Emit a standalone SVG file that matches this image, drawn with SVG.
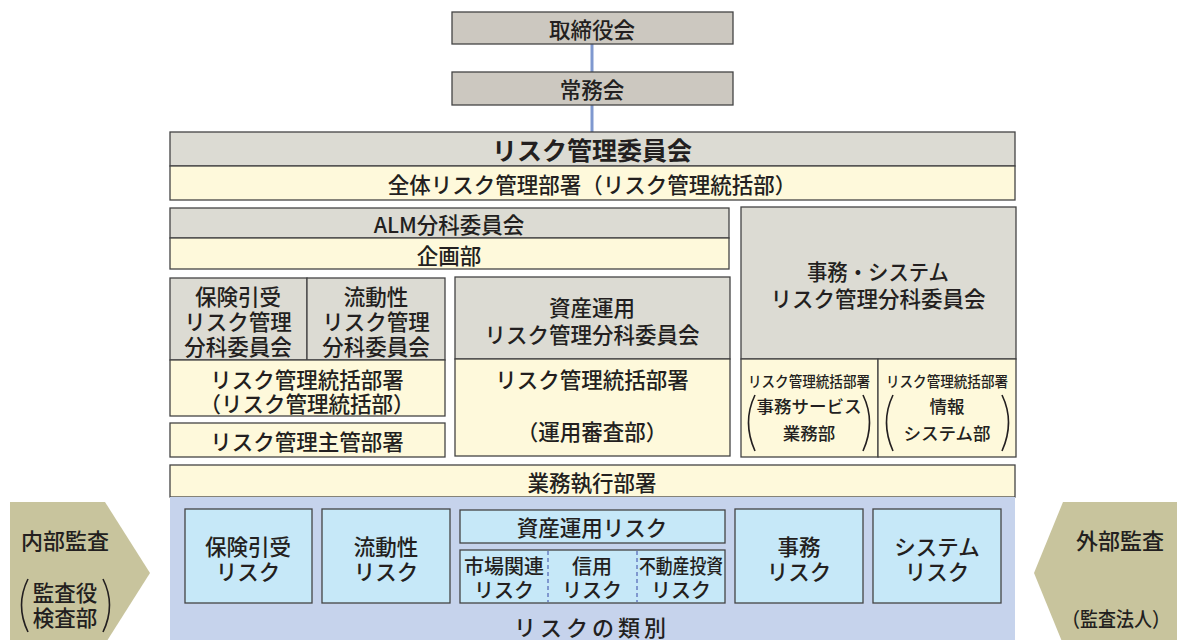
<svg xmlns="http://www.w3.org/2000/svg" width="1177" height="640" viewBox="0 0 1177 640">
<style>
text{font-family:"Noto Sans CJK JP","Noto Sans",sans-serif;fill:#231f20;text-anchor:middle;dominant-baseline:central;font-weight:500}
.g{fill:#dcdbd3;stroke:#444;stroke-width:1.3}
.g2{fill:#ccc8c0;stroke:#444;stroke-width:1.3}
.y{fill:#fef9db;stroke:#444;stroke-width:1.3}
.b{fill:#c6e8f8;stroke:#444;stroke-width:1.3}
.f20{font-size:21.5px}
.f19{font-size:20px}
.f18{font-size:17.5px}
.f15{font-size:15px}
.par{fill:none;stroke:#231f20;stroke-width:1.6}
</style>
<rect x="0" y="0" width="1177" height="640" fill="#fff"/>
<g id="connectors">
<line x1="592" y1="44" x2="592" y2="72" stroke="#7f98cf" stroke-width="3"/>
<line x1="592" y1="105" x2="592" y2="132" stroke="#7f98cf" stroke-width="3"/>
</g>
<g id="board"><rect class="g2" x="452" y="12" width="281" height="32"/><text class="f20" x="592" y="28">取締役会</text></g>
<g id="executive"><rect class="g2" x="452" y="72" width="281" height="33"/><text class="f20" x="592" y="88">常務会</text></g>
<g id="risk-committee"><rect class="g" x="170" y="132" width="845" height="34"/><text x="592" y="149" style="font-size:25px;font-weight:bold">リスク管理委員会</text></g>
<g id="overall-dept"><rect class="y" x="170" y="166" width="845" height="34"/><text class="f20" x="592" y="183">全体リスク管理部署（リスク管理統括部）</text></g>
<g id="alm"><rect class="g" x="170" y="208" width="559" height="30"/><text class="f20" x="449" y="223">ALM分科委員会</text></g>
<g id="planning"><rect class="y" x="170" y="238" width="559" height="31"/><text class="f20" x="449" y="254">企画部</text></g>
<g id="underwriting-sub"><rect class="g" x="170" y="278" width="137" height="82"/><text class="f20" x="238" y="295">保険引受</text><text class="f20" x="238" y="320">リスク管理</text><text class="f20" x="238" y="345">分科委員会</text></g>
<g id="liquidity-sub"><rect class="g" x="307" y="278" width="138" height="82"/><text class="f20" x="376" y="295">流動性</text><text class="f20" x="376" y="320">リスク管理</text><text class="f20" x="376" y="345">分科委員会</text></g>
<g id="left-dept"><rect class="y" x="170" y="360" width="275" height="56"/><text class="f20" x="307" y="378">リスク管理統括部署</text><text class="f20" x="307" y="402">（リスク管理統括部）</text></g>
<g id="main-dept"><rect class="y" x="170" y="423" width="275" height="34"/><text class="f20" x="307" y="440">リスク管理主管部署</text></g>
<g id="asset-sub"><rect class="g" x="455" y="277" width="275" height="82"/><text class="f20" x="592" y="306">資産運用</text><text class="f20" x="592" y="333">リスク管理分科委員会</text></g>
<g id="asset-dept"><rect class="y" x="455" y="359" width="275" height="97"/><text class="f20" x="592" y="378">リスク管理統括部署</text><text class="f20" x="592" y="430">（運用審査部）</text></g>
<g id="ops-sub"><rect class="g" x="741" y="207" width="275" height="152"/><text class="f20" x="878" y="270" textLength="142" lengthAdjust="spacingAndGlyphs">事務・システム</text><text class="f20" x="878" y="297">リスク管理分科委員会</text></g>
<g id="ops-dept"><rect class="y" x="741" y="359" width="137" height="98"/><text class="f15" x="809" y="380" textLength="122" lengthAdjust="spacingAndGlyphs">リスク管理統括部署</text><path class="par" d="M755,395 Q742,422 755,451"/><path class="par" d="M863,395 Q876,422 863,451"/><text class="f18" x="809" y="405">事務サービス</text><text class="f18" x="809" y="432">業務部</text></g>
<g id="sys-dept"><rect class="y" x="878" y="359" width="138" height="98"/><text class="f15" x="947" y="380" textLength="122" lengthAdjust="spacingAndGlyphs">リスク管理統括部署</text><path class="par" d="M893,395 Q880,422 893,451"/><path class="par" d="M1002,395 Q1015,422 1002,451"/><text class="f18" x="947" y="405">情報</text><text class="f18" x="947" y="432">システム部</text></g>
<g id="business-dept"><rect class="y" x="170" y="465" width="845" height="32"/><text class="f20" x="592" y="481">業務執行部署</text></g>
<g id="risk-categories"><rect x="170" y="497" width="845" height="143" fill="#c6d3ec"/><text x="592" y="626" style="font-size:22px;letter-spacing:4px">リスクの類別</text></g>
<g id="underwriting-risk"><rect class="b" x="185" y="509" width="127" height="94"/><text class="f20" x="248" y="545">保険引受</text><text class="f20" x="248" y="570">リスク</text></g>
<g id="liquidity-risk"><rect class="b" x="322" y="509" width="128" height="94"/><text class="f20" x="386" y="545">流動性</text><text class="f20" x="386" y="570">リスク</text></g>
<g id="asset-risk"><rect class="b" x="460" y="510" width="265" height="33"/><text class="f20" x="592" y="526">資産運用リスク</text></g>
<g id="asset-sub-risks"><rect class="b" x="460" y="550" width="265" height="53"/>
<line x1="548" y1="551" x2="548" y2="602" stroke="#7f98cf" stroke-width="2" stroke-dasharray="4,3"/>
<line x1="637" y1="551" x2="637" y2="602" stroke="#7f98cf" stroke-width="2" stroke-dasharray="4,3"/>
<text class="f19" x="504" y="565">市場関連</text><text class="f19" x="504" y="589">リスク</text>
<text class="f19" x="592" y="565">信用</text><text class="f19" x="592" y="589">リスク</text>
<text class="f19" x="681" y="565" textLength="84" lengthAdjust="spacingAndGlyphs">不動産投資</text><text class="f19" x="681" y="589">リスク</text></g>
<g id="ops-risk"><rect class="b" x="735" y="509" width="128" height="94"/><text class="f20" x="799" y="545">事務</text><text class="f20" x="799" y="570">リスク</text></g>
<g id="sys-risk"><rect class="b" x="873" y="509" width="128" height="94"/><text class="f20" x="937" y="545">システム</text><text class="f20" x="937" y="570">リスク</text></g>
<g id="internal-audit"><polygon points="10,502 105,502 150,573 105,644 10,644" fill="#c8c49d"/><text x="65" y="539" style="font-size:22px">内部監査</text><path class="par" d="M28,579 Q15,605 28,632"/><path class="par" d="M103,579 Q116,605 103,632"/><text class="f20" x="65" y="591">監査役</text><text class="f20" x="65" y="616">検査部</text></g>
<g id="external-audit"><polygon points="1063,502 1177,502 1177,644 1063,644 1034,573" fill="#c8c49d"/><text x="1120" y="539" style="font-size:22px">外部監査</text><text x="1116" y="618" style="font-size:20px" textLength="108" lengthAdjust="spacingAndGlyphs">（監査法人）</text></g>
</svg>
